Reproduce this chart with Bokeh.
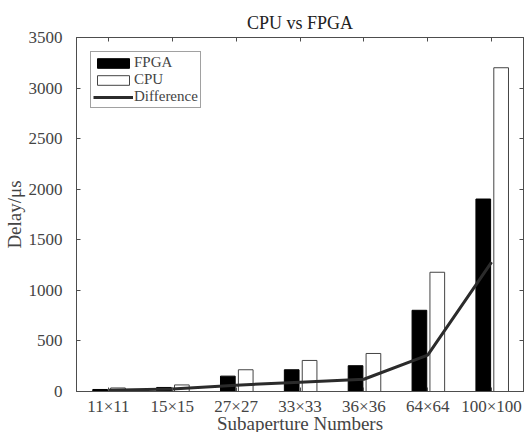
from bokeh.plotting import figure
from bokeh.models import (ColumnDataSource, Range1d, CategoricalAxis, LinearAxis, Legend, LegendItem,
                          SingleIntervalTicker, CustomJSTickFormatter)
from bokeh.transform import dodge
from bokeh.embed import file_html
from bokeh.resources import INLINE

categories = ["11×11", "15×15", "27×27", "33×33", "36×36", "64×64", "100×100"]
fpga = [20, 40, 152, 215, 255, 803, 1903]
cpu = [35, 65, 215, 307, 376, 1179, 3201]
difference = [12, 25, 63, 92, 121, 360, 1280]

FONT = "Liberation Serif"
AX = "#4d4d4d"

src = ColumnDataSource(dict(cat=categories, fpga=fpga, cpu=cpu, diff=difference))

p = figure(x_range=categories, y_range=Range1d(0, 3500),
           frame_width=447, frame_height=354,
           min_border_left=68, min_border_top=37, min_border_right=0, min_border_bottom=0,
           output_backend="svg", toolbar_location=None, title="CPU vs FPGA")
p.x_range.range_padding = 0

p.title.text_font = FONT
p.title.text_font_size = "18px"
p.title.text_font_style = "normal"
p.title.align = "center"
p.title.text_color = "#222222"

p.xgrid.visible = False
p.ygrid.visible = False
p.outline_line_color = AX
p.outline_line_width = 1
p.background_fill_color = "white"
p.border_fill_color = "white"

r_f = p.vbar(x=dodge("cat", -0.13, range=p.x_range), top="fpga", width=0.23, source=src,
             fill_color="black", line_color="black")
r_c = p.vbar(x=dodge("cat", 0.15, range=p.x_range), top="cpu", width=0.23, source=src,
             fill_color="white", line_color="#444444", line_width=1)
r_d = p.line(x="cat", y="diff", source=src, line_color="#2b2b2b", line_width=3)

xa = p.xaxis[0]
xa.axis_label = "Subaperture Numbers"
xa.axis_label_text_font = FONT
xa.axis_label_text_font_size = "19px"
xa.axis_label_text_font_style = "normal"
xa.axis_label_standoff = -6
xa.major_label_text_font = FONT
xa.major_label_text_font_size = "17px"
xa.major_label_standoff = 5
xa.major_tick_in = 4
xa.major_tick_out = 0
xa.axis_line_color = AX
xa.major_tick_line_color = AX

ya = p.yaxis[0]
ya.ticker = SingleIntervalTicker(interval=500)
ya.axis_label = "Delay/μs"
ya.axis_label_text_font = FONT
ya.axis_label_text_font_size = "19px"
ya.axis_label_text_font_style = "normal"
ya.axis_label_standoff = 1
ya.major_label_text_font = FONT
ya.major_label_text_font_size = "17px"
ya.major_label_standoff = 10
ya.major_tick_in = 4
ya.major_tick_out = 0
ya.minor_tick_line_color = None
ya.axis_line_color = AX
ya.major_tick_line_color = AX

top_ax = CategoricalAxis(major_tick_in=4, major_tick_out=0,
                         formatter=CustomJSTickFormatter(code="return ''"),
                         major_label_standoff=0, axis_line_color=AX, major_tick_line_color=AX)
p.add_layout(top_ax, "above")
right_ax = LinearAxis(ticker=SingleIntervalTicker(interval=500),
                      formatter=CustomJSTickFormatter(code="return ''"),
                      major_tick_in=4, major_tick_out=0, minor_tick_line_color=None,
                      major_label_standoff=0, axis_line_color=AX, major_tick_line_color=AX)
p.add_layout(right_ax, "right")

legend = Legend(items=[LegendItem(label="FPGA", renderers=[r_f]),
                       LegendItem(label="CPU", renderers=[r_c]),
                       LegendItem(label="Difference", renderers=[r_d])],
                location="top_left")
legend.margin = 14
legend.padding = 2
legend.spacing = 0
legend.glyph_width = 40
legend.glyph_height = 12
legend.label_height = 12
legend.label_standoff = 1
legend.label_text_font = FONT
legend.label_text_font_size = "15px"
legend.label_text_line_height = 0.9
legend.border_line_color = "#444444"
legend.border_line_width = 1
legend.background_fill_alpha = 1
p.add_layout(legend)

open("out.html", "w").write(file_html(p, INLINE))
